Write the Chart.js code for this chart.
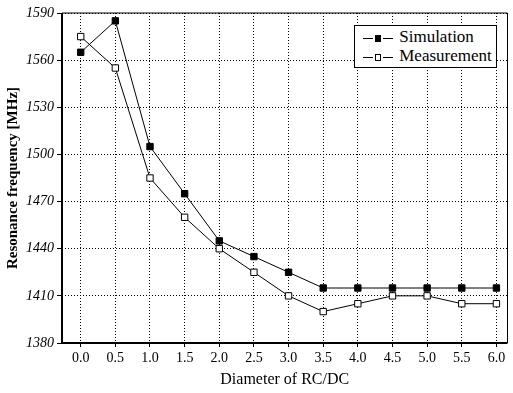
<!DOCTYPE html>
<html><head><meta charset="utf-8">
<script src="https://cdn.jsdelivr.net/npm/chart.js@4"></script>
<style>
html,body{margin:0;padding:0;background:#fff;}
#wrap{position:relative;width:513px;height:393px;}
#legend{position:absolute;left:354px;top:25px;width:143px;height:43px;border:1.5px solid #000;background:#fff;font-family:"Liberation Serif","Times New Roman","DejaVu Serif",serif;font-size:17px;color:#000;box-sizing:border-box;padding:1px 0 0 6px;}
.row{height:19px;line-height:19px;white-space:nowrap;}
.ln{display:inline-block;width:10px;height:1px;background:#000;vertical-align:middle;margin:0 2px;}
.mk{display:inline-block;width:6px;height:7px;border:1px solid #000;vertical-align:middle;box-sizing:border-box;}
</style></head>
<body><div id="wrap"><canvas id="c" width="513" height="393"></canvas>
<div id="legend"><div class="row"><span class="ln"></span><span class="mk" style="background:#000"></span><span class="ln"></span> Simulation</div><div class="row"><span class="ln"></span><span class="mk" style="background:#fff"></span><span class="ln"></span> Measurement</div></div></div>
<script>
const diameters = [0.0,0.5,1.0,1.5,2.0,2.5,3.0,3.5,4.0,4.5,5.0,5.5,6.0];
const simulation = [1565,1585,1505,1475,1445,1435,1425,1415,1415,1415,1415,1415,1415];
const measurement = [1575,1555,1485,1460,1440,1425,1410,1400,1405,1410,1410,1405,1405];
const xTicks = [0.0,0.5,1.0,1.5,2.0,2.5,3.0,3.5,4.0,4.5,5.0,5.5,6.0];
const yTicks = [1380,1410,1440,1470,1500,1530,1560,1590];

const SERIF = '"Liberation Serif","Times New Roman","DejaVu Serif",serif';
const pts = arr => diameters.map((d,i)=>({x:d,y:arr[i]}));
const frame = {id:'frame',afterDraw(ch){const a=ch.chartArea,c=ch.ctx;c.save();c.strokeStyle='#000';c.lineWidth=1;
c.beginPath();c.moveTo(a.left,a.top);c.lineTo(a.right,a.top);c.lineTo(a.right,a.bottom);c.stroke();
c.lineWidth=2;c.beginPath();c.moveTo(a.left,a.top);c.lineTo(a.left,a.bottom);c.lineTo(a.right,a.bottom);c.stroke();c.restore();}};
new Chart(document.getElementById('c'),{
type:'line',
data:{datasets:[
{label:'Simulation',data:pts(simulation),borderColor:'#000',borderWidth:1,backgroundColor:'#000',pointStyle:'rect',pointRadius:4.5,pointBorderColor:'#000',pointBackgroundColor:'#000',tension:0},
{label:'Measurement',data:pts(measurement),borderColor:'#000',borderWidth:1,backgroundColor:'#fff',pointStyle:'rect',pointRadius:4.5,pointBorderColor:'#000',pointBorderWidth:1,pointBackgroundColor:'#fff',tension:0}
]},
options:{responsive:false,animation:false,
layout:{padding:{top:13,right:1,left:0,bottom:0}},
plugins:{legend:{display:false},tooltip:{enabled:false}},
scales:{
x:{type:'linear',min:-0.27,max:6.16,
afterBuildTicks(s){s.ticks=xTicks.map(v=>({value:v}));},
afterFit(s){s.height=50;},
ticks:{callback:v=>Number(v).toFixed(1),color:'#000',font:{family:SERIF,size:14},padding:3,maxRotation:0,autoSkip:false},
grid:{color:'#000',lineWidth:1,tickLength:4,tickBorderDash:[],drawTicks:true},
border:{display:false,dash:[1,2]},
title:{display:true,text:'Diameter of RC/DC',color:'#000',font:{family:SERIF,size:16,weight:'normal'},padding:{top:6}}
},
y:{min:1380,max:1590,
afterBuildTicks(s){s.ticks=yTicks.map(v=>({value:v}));},
afterFit(s){s.width=62;},
ticks:{callback:v=>String(v),color:'#000',font:{family:SERIF,size:14,style:'italic'},padding:3},
grid:{color:'#000',lineWidth:1,tickLength:5,tickBorderDash:[]},
border:{display:false,dash:[1,2]},
title:{display:true,text:'Resonance frequency [MHz]',color:'#000',font:{family:SERIF,size:15,weight:'bold'},padding:{bottom:2}}
}}},
plugins:[frame]});
</script></body></html>
